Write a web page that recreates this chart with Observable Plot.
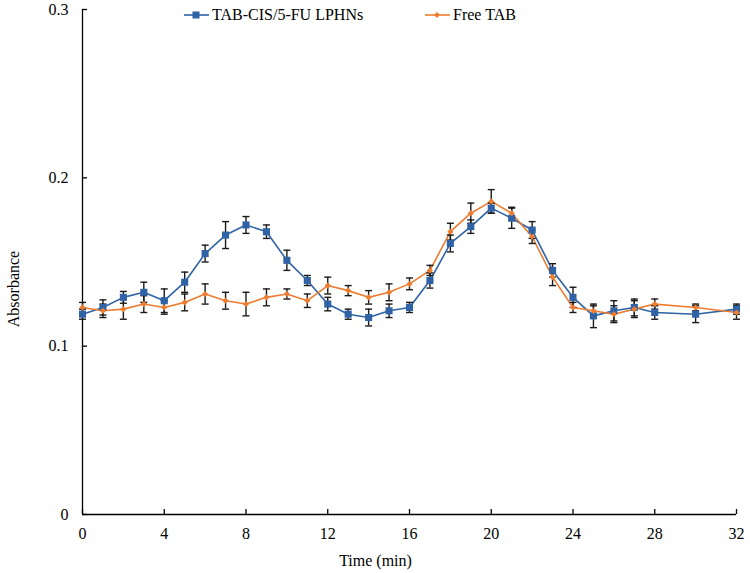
<!DOCTYPE html>
<html>
<head>
<meta charset="utf-8">
<script src="https://cdn.jsdelivr.net/npm/d3@7"></script>
<script src="https://cdn.jsdelivr.net/npm/@observablehq/plot@0.6"></script>
<style>
  html, body { margin: 0; padding: 0; background: #fff; }
  #wrap { position: relative; width: 750px; height: 573px; font-family: "Liberation Serif", "Times New Roman", serif; }
  .leg { position: absolute; top: 5px; height: 20px; display: flex; align-items: center; font-size: 16px; color: #000; white-space: nowrap; }
  .leg svg { display: block; margin-right: 3px; }
</style>
</head>
<body>
<div id="wrap"></div>
<script>
const times = [0,1,2,3,4,5,6,7,8,9,10,11,12,13,14,15,16,17,18,19,20,21,22,23,24,25,26,27,28,30,32];
const lphnMean = [0.119,0.123,0.129,0.132,0.127,0.138,0.155,0.166,0.172,0.168,0.151,0.139,0.125,0.119,0.117,0.121,0.123,0.139,0.161,0.171,0.182,0.176,0.169,0.145,0.129,0.118,0.121,0.123,0.120,0.119,0.122];
const lphnErr  = [0.003,0.0045,0.0035,0.006,0.007,0.006,0.005,0.008,0.005,0.004,0.006,0.003,0.004,0.003,0.005,0.004,0.003,0.0045,0.005,0.004,0.003,0.006,0.005,0.004,0.006,0.007,0.006,0.005,0.004,0.005,0.003];
const freeMean = [0.123,0.121,0.122,0.125,0.123,0.126,0.131,0.127,0.125,0.129,0.131,0.127,0.136,0.133,0.129,0.132,0.137,0.145,0.168,0.179,0.186,0.179,0.165,0.141,0.123,0.121,0.119,0.122,0.125,0.123,0.120];
const freeErr  = [0.003,0.004,0.006,0.005,0.004,0.005,0.006,0.005,0.007,0.005,0.003,0.004,0.005,0.003,0.004,0.005,0.0035,0.003,0.005,0.006,0.007,0.0035,0.004,0.005,0.003,0.003,0.005,0.005,0.003,0.002,0.004];
const seriesNames = ["TAB-CIS/5-FU LPHNs", "Free TAB"];
const xTicks = [0,4,8,12,16,20,24,28,32];
const yTicks = [0,0.1,0.2,0.3];

const blue = "#2f63a6", orange = "#ed7d31", errColor = "#1a1a1a";

const lphn = times.map((t,i) => ({t, v: lphnMean[i], e: lphnErr[i]}));
const free = times.map((t,i) => ({t, v: freeMean[i], e: freeErr[i]}));

const cap = { draw(ctx, size) { const r = Math.sqrt(size / Math.PI); ctx.moveTo(-r, 0); ctx.lineTo(r, 0); } };

function errMarks(data) {
  return [
    Plot.ruleX(data, {x: "t", y1: d => d.v - d.e, y2: d => d.v + d.e, stroke: errColor, strokeWidth: 1.4}),
    Plot.dot(data, {x: "t", y: d => d.v - d.e, symbol: cap, r: 3.5, stroke: errColor, strokeWidth: 1.4, fill: "none"}),
    Plot.dot(data, {x: "t", y: d => d.v + d.e, symbol: cap, r: 3.5, stroke: errColor, strokeWidth: 1.4, fill: "none"})
  ];
}

const chart = Plot.plot({
  width: 750,
  height: 573,
  marginLeft: 82,
  marginRight: 14,
  marginTop: 9,
  marginBottom: 59,
  style: {fontFamily: "'Liberation Serif', 'Times New Roman', serif", fontSize: "16px", color: "#000", background: "#fff"},
  x: {domain: [0, 32]},
  y: {domain: [0, 0.3]},
  marks: [
    Plot.ruleX([0], {stroke: "#000", strokeWidth: 1.3}),
    Plot.ruleY([0], {stroke: "#000", strokeWidth: 1.3}),
    Plot.axisY({ticks: yTicks, tickSize: -5, tickPadding: 19, tickFormat: d => String(d), label: null, stroke: "#000", strokeWidth: 1.3, fontSize: 16}),
    Plot.axisX({ticks: xTicks, tickSize: -5, tickPadding: 18, tickFormat: d => String(d), label: null, stroke: "#000", strokeWidth: 1.3, fontSize: 16}),
    Plot.text(["Absorbance"], {frameAnchor: "left", textAnchor: "middle", lineAnchor: "middle", dx: -69, dy: 27, rotate: -90, fontSize: 16, fill: "#000"}),
    Plot.text(["Time (min)"], {frameAnchor: "bottom", textAnchor: "middle", lineAnchor: "middle", dx: -34, dy: 46, fontSize: 16, fill: "#000"}),
    Plot.line(lphn, {x: "t", y: "v", stroke: blue, strokeWidth: 1.6}),
    Plot.line(free, {x: "t", y: "v", stroke: orange, strokeWidth: 1.6}),
    ...errMarks(lphn),
    ...errMarks(free),
    Plot.dot(lphn, {x: "t", y: "v", symbol: "square", r: 4, fill: blue, stroke: "none"}),
    Plot.dot(free, {x: "t", y: "v", symbol: "diamond2", r: 2.8, fill: orange, stroke: "none"})
  ]
});

const wrap = document.getElementById("wrap");
wrap.appendChild(chart);

function legendItem(left, name, color, shape) {
  const div = document.createElement("div");
  div.className = "leg";
  div.style.left = left + "px";
  const marker = shape === "square"
    ? `<rect x="8.5" y="6.5" width="7" height="7" fill="${color}"/>`
    : `<path d="M12,7 L15,10 L12,13 L9,10 Z" fill="${color}"/>`;
  div.innerHTML = `<svg width="25" height="20"><line x1="0" y1="10" x2="25" y2="10" stroke="${color}" stroke-width="1.6"/>${marker}</svg><span>${name}</span>`;
  wrap.appendChild(div);
}
legendItem(184, seriesNames[0], blue, "square");
legendItem(425, seriesNames[1], orange, "diamond");
</script>
</body>
</html>
